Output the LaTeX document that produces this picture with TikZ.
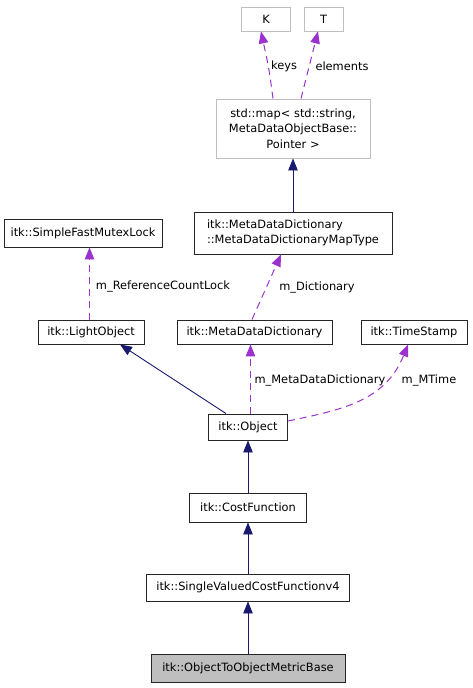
\documentclass[tikz,border=0pt]{standalone}
\usepackage{fontspec}
\setmainfont{DejaVu Sans}
\usetikzlibrary{arrows.meta}
\definecolor{edgeblue}{RGB}{25,25,112}
\definecolor{edgepurple}{RGB}{154,50,205}
\definecolor{boxgray}{RGB}{191,191,191}

\begin{document}
\begin{tikzpicture}[x=1pt,y=1pt,
    cls/.style={draw=black!85,line width=0.9pt,inner sep=0pt,align=center,font=\fontsize{11.4}{15.5}\selectfont},
    tmpl/.style={cls,draw=boxgray},
    here/.style={cls,fill=boxgray},
    lbl/.style={inner sep=0pt,font=\fontsize{11.4}{13}\selectfont},
    inherit/.style={draw=edgeblue,line width=0.9pt,-{Triangle[length=12pt,width=9.5pt]}},
    member/.style={draw=edgepurple,line width=1pt,dash pattern=on 7pt off 5pt,-{Triangle[length=12pt,width=9.5pt]}}]
        \useasboundingbox (0,0) rectangle (473,-688);
        \node[tmpl,minimum width=49,minimum height=24] (K) at (266,-19) {K};
        \node[tmpl,minimum width=39,minimum height=24] (T) at (323.5,-19) {T};
        \node[tmpl,minimum width=154,minimum height=59] (map) at (293,-128.5) {std::map< std::string,\\ MetaDataObjectBase::\\ Pointer >};
        \node[cls,minimum width=158,minimum height=28] (mutex) at (83,-233) {itk::SimpleFastMutexLock};
        \node[cls,align=left,minimum width=198,minimum height=42] (maptype) at (293,-233) {itk::MetaDataDictionary\\::MetaDataDictionaryMapType};
        \node[cls,minimum width=106,minimum height=24] (light) at (91,-332) {itk::LightObject};
        \node[cls,minimum width=155,minimum height=24] (dict) at (254.5,-332) {itk::MetaDataDictionary};
        \node[cls,minimum width=106,minimum height=24] (stamp) at (414,-332) {itk::TimeStamp};
        \node[cls,minimum width=79,minimum height=26] (object) at (248,-427) {itk::Object};
        \node[cls,minimum width=117,minimum height=29] (cost) at (248,-507.5) {itk::CostFunction};
        \node[cls,minimum width=203,minimum height=27] (single) at (248,-587.5) {itk::SingleValuedCostFunctionv4};
        \node[here,minimum width=194,minimum height=28] (metric) at (248,-668) {itk::ObjectToObjectMetricBase};

        \draw[member] ([xshift=-20pt]map.north) .. controls ([xshift=-24pt,yshift=30pt]map.north) .. ([xshift=-5pt]K.south);
        \draw[member] ([xshift=8pt]map.north) -- ([xshift=-5.5pt]T.south);
        \draw[inherit] (maptype) -- (map);
        \draw[member] ([xshift=-1.5pt]light.north) -- ([xshift=6.5pt]mutex.south);
        \draw[member] ([xshift=-2.5pt]dict.north) -- ([xshift=-12pt]maptype.south);
        \draw[inherit] ([xshift=-22pt]object.north) -- ([xshift=29pt]light.south);
        \draw[member] ([xshift=2.5pt]object.north) -- ([xshift=-4pt]dict.south);
        \draw[member] ([yshift=6pt]object.east) .. controls (340,-410) and (385,-402) .. ([xshift=-6pt]stamp.south);
        \draw[inherit] (cost) -- (object);
        \draw[inherit] (single) -- (cost);
        \draw[inherit] (metric) -- (single);

        \node[lbl] (keyslbl) at (284,-66) {keys};
        \node[lbl] (elemlbl) at (342,-66) {elements};
        \node[lbl] (locklbl) at (163,-287) {m\_ReferenceCountLock};
        \node[lbl] (dictlbl) at (317,-288) {m\_Dictionary};
        \node[lbl] (mddlbl) at (320,-381) {m\_MetaDataDictionary};
        \node[lbl] (timelbl) at (429,-381) {m\_MTime};
\end{tikzpicture}
\end{document}
